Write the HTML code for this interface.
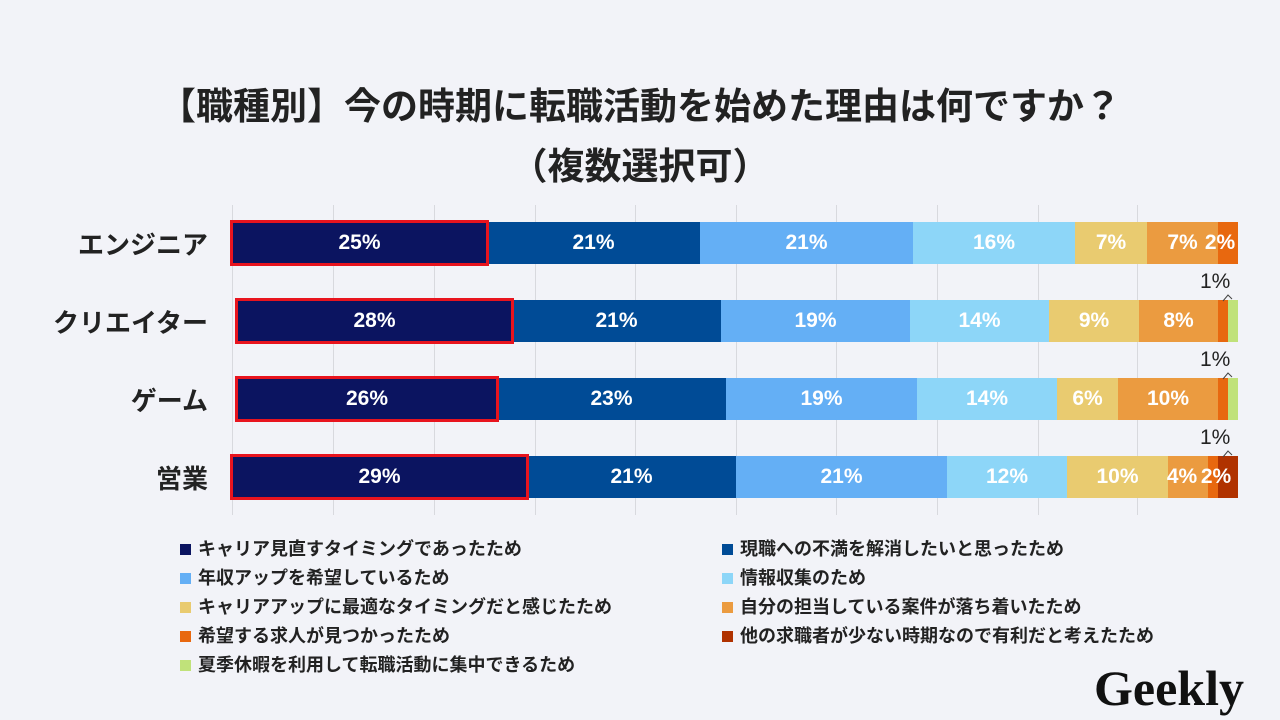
<!DOCTYPE html>
<html><head><meta charset="utf-8"><style>
body{margin:0;width:1280px;height:720px;background:#f2f3f8;position:relative;overflow:hidden;font-family:"Liberation Sans","Noto Sans CJK JP",sans-serif;}
.t{position:absolute;left:0;width:1280px;text-align:center;font-weight:bold;font-size:37px;color:#222;}
.g{position:absolute;top:205px;height:310px;width:1px;background:#d8d9de;}
.s{position:absolute;height:42px;color:#fff;font-weight:bold;font-size:21px;line-height:42px;text-align:center;white-space:nowrap;}
.r{position:absolute;border:3px solid #e8141e;box-sizing:border-box;}
.lab{position:absolute;right:1072px;font-weight:bold;font-size:26px;color:#222;text-align:right;white-space:nowrap;}
.lg{position:absolute;font-size:18px;color:#222;font-weight:bold;white-space:nowrap;}
.lg i{display:inline-block;width:11px;height:11px;margin-right:7px;vertical-align:0px;}
.one{position:absolute;font-size:21px;color:#222;}
</style></head><body>
<div class="t" style="top:76px">【職種別】今の時期に転職活動を始めた理由は何ですか？</div>
<div class="t" style="top:136px">（複数選択可）</div>
<div id="c"></div>
<div style="position:absolute;left:1094px;top:660px;font-family:'Liberation Serif',serif;font-weight:bold;font-size:50px;color:#111;line-height:56px;">Geekly</div>
<script>
var C=['#0b1460','#004b96','#64aff5','#8dd6f8','#e9cb70','#eb9b40','#e8680f','#b03200','#c0e27a'];
var h='';
[232,333,434,535,635,736,836,937,1038,1137].forEach(function(x){h+='<div class="g" style="left:'+x+'px"></div>';});
var rows=[
{y:222,n:'エンジニア',b:[[232,487,0,'25%'],[487,700,1,'21%'],[700,913,2,'21%'],[913,1075,3,'16%'],[1075,1147,4,'7%'],[1147,1218,5,'7%'],[1218,1238,6,'']],red:[230,489],extra:'<div class="s" style="left:1200px;top:222px;width:40px">2%</div>'},
{y:300,n:'クリエイター',b:[[237,512,0,'28%'],[512,721,1,'21%'],[721,910,2,'19%'],[910,1049,3,'14%'],[1049,1139,4,'9%'],[1139,1218,5,'8%'],[1218,1228,6,''],[1228,1238,8,'']],red:[235,514],one:1},
{y:378,n:'ゲーム',b:[[237,497,0,'26%'],[497,726,1,'23%'],[726,917,2,'19%'],[917,1057,3,'14%'],[1057,1118,4,'6%'],[1118,1218,5,'10%'],[1218,1228,6,''],[1228,1238,8,'']],red:[235,499],one:1},
{y:456,n:'営業',b:[[232,527,0,'29%'],[527,736,1,'21%'],[736,947,2,'21%'],[947,1067,3,'12%'],[1067,1168,4,'10%'],[1168,1208,5,''],[1208,1218,6,''],[1218,1238,7,'']],red:[230,529],one:1,
 extra:'<div class="s" style="left:1162px;top:456px;width:40px">4%</div><div class="s" style="left:1196px;top:456px;width:40px">2%</div>'}
];
rows.forEach(function(r){
 h+='<div class="lab" style="top:'+(r.y+3)+'px">'+r.n+'</div>';
 r.b.forEach(function(s){h+='<div class="s" style="left:'+s[0]+'px;top:'+r.y+'px;width:'+(s[1]-s[0])+'px;background:'+C[s[2]]+'">'+s[3]+'</div>';});
 h+='<div class="r" style="left:'+r.red[0]+'px;top:'+(r.y-2)+'px;width:'+(r.red[1]-r.red[0])+'px;height:46px"></div>';
 if(r.extra)h+=r.extra;
 if(r.one){h+='<div class="one" style="left:1200px;top:'+(r.y-30)+'px">1%</div>';
  h+='<svg style="position:absolute;left:1220px;top:'+(r.y-10)+'px" width="16" height="12"><polyline points="3,11 8,5 12,9" fill="none" stroke="#444" stroke-width="1"/></svg>';}
});
var L=[['キャリア見直すタイミングであったため',0],['現職への不満を解消したいと思ったため',1],['年収アップを希望しているため',2],['情報収集のため',3],['キャリアアップに最適なタイミングだと感じたため',4],['自分の担当している案件が落ち着いたため',5],['希望する求人が見つかったため',6],['他の求職者が少ない時期なので有利だと考えたため',7],['夏季休暇を利用して転職活動に集中できるため',8]];
L.forEach(function(l,i){var x=(i%2)?722:180,y=535+Math.floor(i/2)*29;
 h+='<div class="lg" style="left:'+x+'px;top:'+y+'px"><i style="background:'+C[l[1]]+'"></i>'+l[0]+'</div>';});
document.getElementById('c').innerHTML=h;
</script>
</body></html>
